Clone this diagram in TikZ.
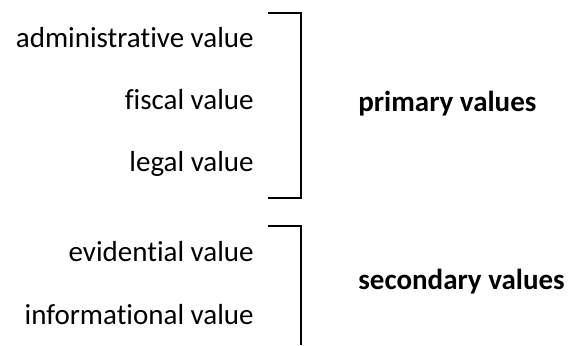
\documentclass[tikz,border=0pt]{standalone}
\usepackage{fontspec}
\setmainfont{Carlito}[Ligatures={NoCommon,NoContextual}]
\usepackage{tikz}
\tikzset{every node/.style={font=\fontsize{16.5}{20}\selectfont, inner sep=0pt}}
\tikzset{lbl/.style={anchor=base east}, grp/.style={anchor=base west, font=\fontsize{16.5}{20}\selectfont\bfseries}, brk/.style={line width=1.1pt}}

\begin{document}
\begin{tikzpicture}
		\useasboundingbox (0,0) rectangle (11.38,6.9);
		\node[lbl] (adm) at (5.08,5.94) {administrative value};
		\node[lbl] (fis) at (5.08,4.70) {fiscal value};
		\node[lbl] (leg) at (5.08,3.46) {legal value};
		\node[lbl] (evi) at (5.08,1.66) {evidential value};
		\node[lbl] (inf) at (5.08,0.42) {informational value};
		\node[grp] (prim) at (7.16,4.66) {primary values};
		\node[grp] (sec) at (7.16,1.10) {secondary values};
		\coordinate (pt) at (5.36,6.64); \coordinate (pb) at (5.36,2.94); % primary bracket
		\coordinate (st) at (5.36,2.38); \coordinate (sb) at (6.02,0); % secondary bracket
		\draw[brk] (pt) -- (6.02,6.64) -- (6.02,2.94) -- (pb);
		\draw[brk] (st) -- (6.02,2.38) -- (sb);
	\end{tikzpicture}
\end{document}
